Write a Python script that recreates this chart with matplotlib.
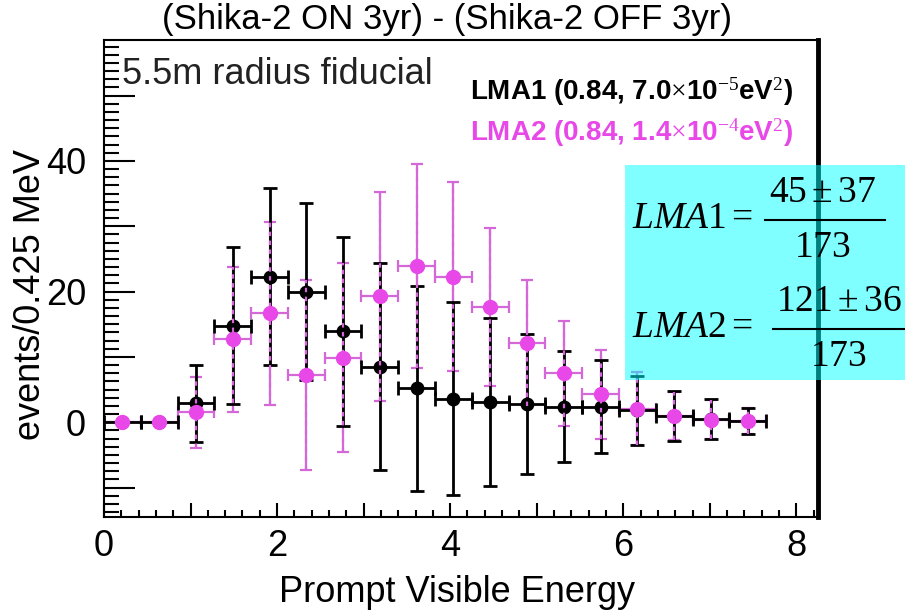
import matplotlib
matplotlib.use("Agg")
import matplotlib.pyplot as plt
from matplotlib.ticker import MultipleLocator, FuncFormatter
from matplotlib.patches import Rectangle
from matplotlib.lines import Line2D

plt.rcParams['font.family'] = ['Liberation Sans', 'DejaVu Sans']
plt.rcParams['mathtext.fontset'] = 'custom'
plt.rcParams['mathtext.rm'] = 'Liberation Serif'
plt.rcParams['mathtext.it'] = 'Liberation Serif:italic'

# bin centres, 0.425 MeV wide
energy = [0.2125, 0.6375, 1.0625, 1.4875, 1.9125, 2.3375, 2.7625, 3.1875, 3.6125,
          4.0375, 4.4625, 4.8875, 5.3125, 5.7375, 6.1625, 6.5875, 7.0125, 7.4375]
half_bin = 0.2125

lma1 = [0, 0, 2.9, 14.8, 22.3, 20.0, 13.9, 8.5, 5.2, 3.6, 3.1, 2.8, 2.4, 2.4, 1.8, 1.0, 0.5, 0.2]
lma1_err = [0, 0, 5.9, 12.0, 13.5, 13.6, 14.5, 15.8, 15.7, 14.8, 12.9, 10.7, 8.5, 7.1, 5.3, 3.8, 3.0, 2.0]

lma2 = [0, 0, 1.5, 12.7, 16.7, 7.2, 9.9, 19.3, 23.9, 22.3, 17.6, 12.1, 7.5, 4.3, 2.1, 1.0, 0.4, 0.15]
lma2_err = [0, 0, 5.5, 11.1, 14.0, 14.5, 14.4, 16.0, 15.6, 14.4, 12.1, 9.6, 8.0, 6.8, 5.6, 3.7, 3.0, 2.0]

# rate summary: (name, numerator, denominator)
summary = [('LMA1', r'45\pm37', '173'), ('LMA2', r'121\pm36', '173')]

pink = '#e848e8'
pink_bar = '#d468d8'

W, H = 905, 610
fig = plt.figure(figsize=(W / 100, H / 100), dpi=100)
ax = fig.add_axes([104 / W, 1 - 517 / H, 714 / W, 477 / H])

# positions in figure pixels
def fx(px):
    return px / W

def fy(py):
    return 1 - py / H

# pink underneath, black on top, then dashed pink over the overlap
ax.errorbar(energy, lma2, yerr=lma2_err, xerr=half_bin, fmt='none',
            ecolor=pink_bar, elinewidth=1.6, capsize=4, capthick=1.6, zorder=2)
ax.errorbar(energy, lma1, yerr=lma1_err, xerr=half_bin, fmt='o', color='black',
            ms=9, elinewidth=2.0, capsize=5, capthick=2.0, zorder=3)
ax.errorbar(energy, lma2, yerr=lma2_err, fmt='none', ecolor=pink_bar,
            elinewidth=1.6, capsize=0, zorder=4)[2][0].set_linestyle((0, (2, 2)))
ax.plot(energy, lma2, 'o', color=pink, ms=10, zorder=5)

ax.set_xlim(0, 8.25)
ax.set_ylim(-14.5, 58.5)

ax.xaxis.set_major_locator(MultipleLocator(1))
ax.xaxis.set_minor_locator(MultipleLocator(0.2))
ax.xaxis.set_major_formatter(FuncFormatter(lambda v, p: '%d' % v if int(round(v)) % 2 == 0 else ''))
ax.yaxis.set_major_locator(MultipleLocator(10))
ax.yaxis.set_minor_locator(MultipleLocator(1.25))
ax.yaxis.set_major_formatter(FuncFormatter(lambda v, p: '%d' % v if int(round(v)) % 20 == 0 and v >= 0 else ''))

ax.tick_params(axis='both', which='both', direction='in', width=1.5, labelsize=26, colors='black')
ax.tick_params(axis='x', which='major', length=10, pad=9)
ax.tick_params(axis='x', which='minor', length=5)
ax.tick_params(axis='y', which='major', length=22, pad=13)
ax.tick_params(axis='y', which='minor', length=11)
ax.tick_params(top=False, right=False)

for side in ['left', 'bottom', 'top']:
    ax.spines[side].set_linewidth(1.5)
ax.spines['right'].set_linewidth(3.5)

fig.text(fx(457), fy(592), 'Prompt Visible Energy', fontsize=26, ha='center', va='center')
fig.text(fx(31), fy(295), 'events/0.425 MeV', fontsize=26, ha='center', va='center', rotation=90)
fig.text(fx(447), fy(19), '(Shika-2 ON 3yr) - (Shika-2 OFF 3yr)', fontsize=25,
         ha='center', va='center')

ax.text(0.025, 0.927, '5.5m radius fiducial', transform=ax.transAxes, fontsize=26,
        ha='left', va='center', color='#222222')
ax.text(0.513, 0.891, r'LMA1 (0.84, 7.0$\times$10$^{-5}$eV$^{2}$)', transform=ax.transAxes,
        fontsize=20, fontweight='bold', ha='left', va='center', color='black')
ax.text(0.513, 0.805, r'LMA2 (0.84, 1.4$\times$10$^{-4}$eV$^{2}$)', transform=ax.transAxes,
        fontsize=20, fontweight='bold', ha='left', va='center', color=pink)

# summary box on top of the frame
fig.patches.append(Rectangle((fx(625), fy(380)), fx(280), 215 / H, transform=fig.transFigure,
                             facecolor='cyan', alpha=0.5, edgecolor='none', zorder=10))
rows = [(218, 765, 885), (327, 773, 910)]
for (name, num, den), (yc, x0, x1) in zip(summary, rows):
    xm = (x0 + x1) / 2
    fig.text(fx(632), fy(yc), r'$%s = $' % name, fontsize=27, ha='left', va='center', zorder=11)
    fig.text(fx(xm - 2), fy(yc - 26), r'$%s$' % num, fontsize=27, ha='center', va='center', zorder=11)
    fig.text(fx(xm - 3), fy(yc + 29), r'$%s$' % den, fontsize=27, ha='center', va='center', zorder=11)
    fig.lines.append(Line2D([fx(x0), fx(x1)], [fy(yc + 2), fy(yc + 2)], transform=fig.transFigure,
                            color='black', lw=1.5, zorder=11))

fig.savefig('out.png', dpi=100)
